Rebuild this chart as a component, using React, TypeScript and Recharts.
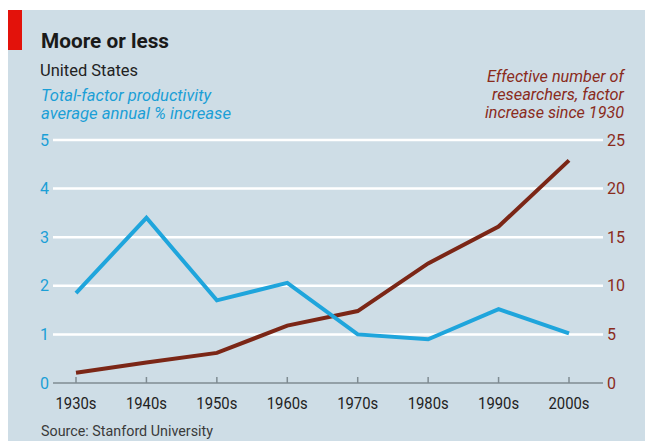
import React from "react";
import {
  LineChart,
  Line,
  XAxis,
  YAxis,
  ReferenceLine,
} from "recharts";

// data
const decades = ["1930s", "1940s", "1950s", "1960s", "1970s", "1980s", "1990s", "2000s"];
const tfpGrowth = [1.85, 3.4, 1.7, 2.06, 1.0, 0.9, 1.52, 1.02];
const researchers = [1.05, 2.1, 3.1, 5.9, 7.4, 12.3, 16.1, 22.9];
const leftTicks = [0, 1, 2, 3, 4, 5];
const rightTicks = [0, 5, 10, 15, 20, 25];
const gridValues = [1, 2, 3, 4, 5];

const chartData = decades.map((d, i) => ({
  decade: d,
  tfp: tfpGrowth[i],
  researchers: researchers[i],
}));

const BLUE = "#1fa5dc";
const BLUE_TEXT = "#1b9fd6";
const BROWN = "#7b2616";
const BROWN_TEXT = "#8a2b1c";
const BG = "#cedde6";
const FONT = "Roboto, 'Noto Sans', sans-serif";

const DecadeTick = (props: any) => {
  const { x, y, payload } = props;
  return (
    <g>
      <line x1={x} x2={x} y1={y} y2={y - 6} stroke="#7f8b92" strokeWidth={1.5} />
      <text
        x={x}
        y={y + 26}
        textAnchor="middle"
        fontSize={16}
        fill="#222"
        fontFamily={FONT}
        textLength={41}
        lengthAdjust="spacingAndGlyphs"
      >
        {payload.value}
      </text>
    </g>
  );
};

const App: React.FC = () => {
  return (
    <div
      style={{
        position: "absolute",
        left: 0,
        top: 0,
        width: 645,
        height: 441,
        background: "#fff",
        overflow: "hidden",
      }}
    >
      <div
        style={{
          position: "absolute",
          left: 8,
          top: 10,
          width: 637,
          height: 431,
          background: BG,
        }}
      />
      <div
        style={{
          position: "absolute",
          left: 8,
          top: 10,
          width: 14,
          height: 40,
          background: "#e3120b",
        }}
      />
      <div style={{ position: "absolute", left: 0, top: 0 }}>
        <LineChart
          width={645}
          height={441}
          data={chartData}
          margin={{ top: 140, right: 12, bottom: 28, left: 33 }}
        >
          {gridValues.map((v) => (
            <ReferenceLine
              key={`grid-${v}`}
              y={v}
              yAxisId="left"
              stroke="#ffffff"
              strokeWidth={2.5}
            />
          ))}
          <XAxis
            dataKey="decade"
            height={30}
            padding={{ left: 23, right: 34 }}
            axisLine={{ stroke: "#7f8b92", strokeWidth: 1.5 }}
            tickLine={false}
            tickSize={0}
            tickMargin={0}
            tick={<DecadeTick />}
            interval={0}
          />
          <YAxis
            yAxisId="left"
            orientation="left"
            width={20}
            domain={[0, 5]}
            ticks={leftTicks}
            axisLine={false}
            tickLine={false}
            tickSize={0}
            tickMargin={4}
            tick={{ fill: BLUE_TEXT, fontSize: 16, fontFamily: FONT }}
          />
          <YAxis
            yAxisId="right"
            orientation="right"
            width={30}
            domain={[0, 25]}
            ticks={rightTicks}
            axisLine={false}
            tickLine={false}
            tickSize={0}
            tickMargin={4}
            tick={{ fill: BROWN_TEXT, fontSize: 16, fontFamily: FONT }}
          />
          <Line
            yAxisId="right"
            dataKey="researchers"
            type="linear"
            stroke={BROWN}
            strokeWidth={4}
            dot={false}
            isAnimationActive={false}
          />
          <Line
            yAxisId="left"
            dataKey="tfp"
            type="linear"
            stroke={BLUE}
            strokeWidth={4}
            dot={false}
            isAnimationActive={false}
          />
        </LineChart>
      </div>
      <svg
        width={645}
        height={441}
        style={{ position: "absolute", left: 0, top: 0, pointerEvents: "none" }}
        fontFamily={FONT}
      >
        <text x={41} y={48} fontSize={21} fontWeight={700} fill="#1a1a1a" textLength={128} lengthAdjust="spacingAndGlyphs">
          Moore or less
        </text>
        <text x={40} y={76} fontSize={16} fill="#222" textLength={98} lengthAdjust="spacingAndGlyphs">
          United States
        </text>
        <text x={41} y={101} fontSize={16} fontStyle="italic" fill={BLUE_TEXT} textLength={170} lengthAdjust="spacingAndGlyphs">
          Total-factor productivity
        </text>
        <text x={41} y={119} fontSize={16} fontStyle="italic" fill={BLUE_TEXT} textLength={190} lengthAdjust="spacingAndGlyphs">
          average annual % increase
        </text>
        <text x={487} y={82} fontSize={16} fontStyle="italic" fill={BROWN_TEXT} textLength={137} lengthAdjust="spacingAndGlyphs">
          Effective number of
        </text>
        <text x={492} y={100} fontSize={16} fontStyle="italic" fill={BROWN_TEXT} textLength={132} lengthAdjust="spacingAndGlyphs">
          researchers, factor
        </text>
        <text x={485} y={118} fontSize={16} fontStyle="italic" fill={BROWN_TEXT} textLength={139} lengthAdjust="spacingAndGlyphs">
          increase since 1930
        </text>
        <text x={41} y={436} fontSize={14} fill="#3a3a3a" textLength={172} lengthAdjust="spacingAndGlyphs">
          Source: Stanford University
        </text>
      </svg>
    </div>
  );
};

export default App;
